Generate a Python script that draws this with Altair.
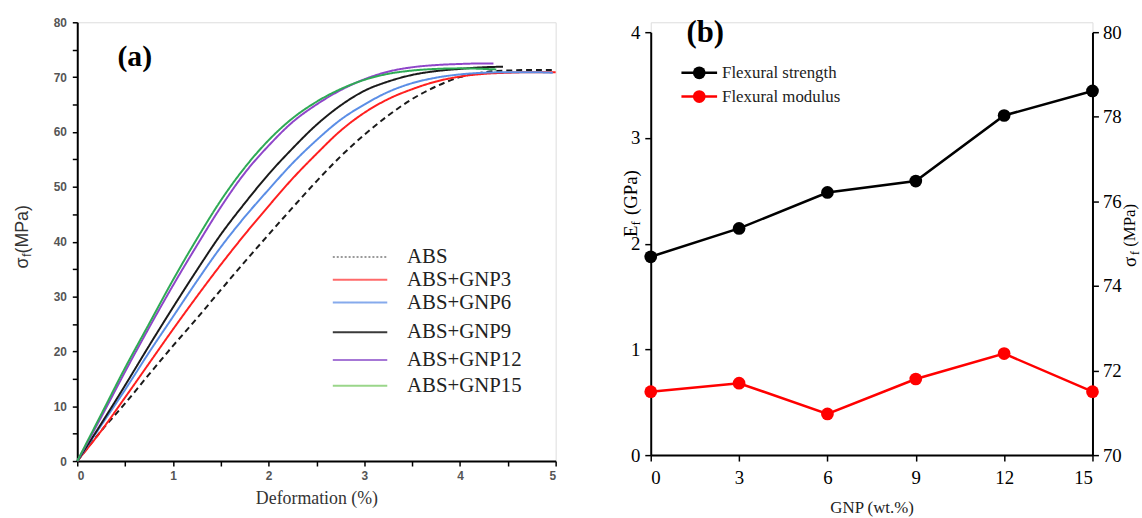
import altair as alt
import pandas as pd

# ---------------- Panel (a) data: flexural stress-strain curves ----------------
SERIES = ["ABS", "ABS+GNP3", "ABS+GNP6", "ABS+GNP9", "ABS+GNP12", "ABS+GNP15"]

X_COMMON = [0, 0.25, 0.5, 0.75, 1, 1.25, 1.5, 1.75, 2, 2.25, 2.5, 2.75, 3, 3.25, 3.5, 3.75, 4, 4.25]

ABS_Y = [0, 5.5, 10.5, 15.8, 21, 26, 31.2, 36.3, 41.3, 46.2, 51, 55.5, 59.5, 63, 66, 68.3, 70, 70.9]
ABS_TAIL_X = [4.5, 4.75, 5]
ABS_TAIL_Y = [71.2, 71.3, 71.3]

GNP3_Y = [0, 5.5, 11.6, 17.8, 24, 30, 35.8, 41.3, 46.5, 51.5, 56, 60.2, 63.5, 66, 67.8, 69.2, 70.1, 70.6]
GNP3_TAIL_X = [4.5, 4.75, 5]
GNP3_TAIL_Y = [70.8, 70.9, 70.9]

GNP6_Y = [0, 6.5, 13, 19.8, 26.3, 32.8, 39, 44.5, 49.5, 54.3, 58.5, 62.2, 65, 67.3, 68.9, 69.9, 70.5, 70.8]
GNP6_TAIL_X = [4.5, 4.75, 4.97]
GNP6_TAIL_Y = [70.9, 70.9, 70.8]

GNP9_Y = [0, 6.8, 13.8, 21, 28, 34.8, 41.3, 47, 52.3, 57, 61.3, 64.8, 67.5, 69.2, 70.4, 71.1, 71.5, 71.8]
GNP9_TAIL_X = [4.45]
GNP9_TAIL_Y = [71.9]

GNP12_Y = [0, 8, 16.3, 24.3, 32, 39.3, 46.3, 52.5, 57.5, 61.8, 65, 67.6, 69.6, 71, 71.8, 72.2, 72.4, 72.5]
GNP12_TAIL_X = [4.35]
GNP12_TAIL_Y = [72.5]

GNP15_Y = [0, 8.5, 17, 25, 33, 40.5, 47.5, 53.5, 58.5, 62.5, 65.5, 67.8, 69.5, 70.6, 71.2, 71.5, 71.6, 71.5]
GNP15_TAIL_X = [4.38]
GNP15_TAIL_Y = [71.4]

# ---------------- Panel (b) data ----------------
GNP_WT = [0, 3, 6, 9, 12, 15]
FLEX_STRENGTH = [74.69, 75.36, 76.21, 76.48, 78.03, 78.61]   # MPa, right axis
FLEX_MODULUS = [0.60, 0.68, 0.39, 0.72, 0.96, 0.60]          # GPa, left axis

# ---------------- styles ----------------
COLORS = ["#1a1a1a", "#ff1f1f", "#5b8ee6", "#1a1a1a", "#8f45c9", "#2eaa55"]
LEGEND_COLORS = ["#9a9a9a", "#ff6a6a", "#86aaec", "#3a3a3a", "#a677d6", "#9ad68a"]
DASHES = [[6, 4], [1, 0], [1, 0], [1, 0], [1, 0], [1, 0]]
LEGEND_DASHES = [[2, 2], [1, 0], [1, 0], [1, 0], [1, 0], [1, 0]]
SERIF = "Liberation Serif"
SANS = "Liberation Sans"

curves_y = [ABS_Y, GNP3_Y, GNP6_Y, GNP9_Y, GNP12_Y, GNP15_Y]
tails_x = [ABS_TAIL_X, GNP3_TAIL_X, GNP6_TAIL_X, GNP9_TAIL_X, GNP12_TAIL_X, GNP15_TAIL_X]
tails_y = [ABS_TAIL_Y, GNP3_TAIL_Y, GNP6_TAIL_Y, GNP9_TAIL_Y, GNP12_TAIL_Y, GNP15_TAIL_Y]

rows = []
for name, ys, tx, ty in zip(SERIES, curves_y, tails_x, tails_y):
    xs = X_COMMON + tx
    yv = ys + ty
    for i, (xx, yy) in enumerate(zip(xs, yv)):
        rows.append({"series": name, "x": xx, "y": yy, "i": i})
df_a = pd.DataFrame(rows)

one = pd.DataFrame({"k": [0]})

A_W, A_H = 483, 443
B_W, B_H = 446, 437
B_TOP = 10  # plot of (b) starts a little lower than plot of (a)

curves = alt.Chart(df_a).mark_line(interpolate="monotone", strokeWidth=2).encode(
    x=alt.X("x:Q", scale=alt.Scale(domain=[0, 5], nice=False),
            axis=alt.Axis(values=[v / 2 for v in range(0, 11)],
                          labelExpr="datum.value % 1 == 0 ? datum.label : ''",
                          format="~g", grid=False, domainColor="black", domainWidth=2,
                          tickColor="black", tickWidth=1.5, tickSize=5,
                          labelFont=SANS, labelFontWeight="bold", labelFontSize=12,
                          labelColor="#555555", labelPadding=5,
                          title="Deformation (%)", titleFont=SERIF, titleFontSize=18,
                          titleFontWeight="normal", titleColor="#333333", titlePadding=8)),
    y=alt.Y("y:Q", scale=alt.Scale(domain=[0, 80], nice=False),
            axis=alt.Axis(values=list(range(0, 81, 5)),
                          labelExpr="datum.value % 10 == 0 ? datum.label : ''",
                          grid=False, domainColor="black", domainWidth=2,
                          tickColor="black", tickWidth=1.5, tickSize=5,
                          labelFont=SANS, labelFontWeight="bold", labelFontSize=12,
                          labelColor="#555555", labelPadding=6, title=None)),
    color=alt.Color("series:N", scale=alt.Scale(domain=SERIES, range=COLORS), legend=None),
    strokeDash=alt.StrokeDash("series:N", scale=alt.Scale(domain=SERIES, range=DASHES), legend=None),
    order="i:Q",
)

a_layers = [curves]

# legend of (a)
LEG_A_Y = [237, 260, 283, 313, 341, 367]
for name, col, dash, ly in zip(SERIES, LEGEND_COLORS, LEGEND_DASHES, LEG_A_Y):
    a_layers.append(alt.Chart(one).mark_rule(color=col, strokeWidth=2, strokeDash=dash).encode(
        x=alt.value(258), x2=alt.value(313), y=alt.value(ly)))
    a_layers.append(alt.Chart(one).mark_text(text=name, font=SERIF, fontSize=21, color="#222222",
                                             align="left", baseline="middle").encode(
        x=alt.value(333), y=alt.value(ly)))

# panel label (a)
a_layers.append(alt.Chart(one).mark_text(text="(a)", font=SERIF, fontSize=30, fontWeight="bold",
                                         color="black", align="center", baseline="middle").encode(
    x=alt.value(58), y=alt.value(35)))


def rot_text(txt, x, y, size, font, color="black"):
    return alt.Chart(one).mark_text(text=txt, font=font, fontSize=size, color=color, angle=270,
                                    align="center", baseline="middle").encode(
        x=alt.value(x), y=alt.value(y))


a_layers += [
    rot_text("σ", -55, 243, 18, SANS, "#333333"),
    rot_text("f", -51, 235, 12, SANS, "#333333"),
    rot_text("(MPa)", -55, 209, 18, SANS, "#333333"),
]

panel_a = alt.layer(*a_layers).properties(width=A_W, height=A_H)

# ---------------- Panel (b) ----------------
df_b = pd.DataFrame({"gnp": GNP_WT, "strength": FLEX_STRENGTH, "modulus": FLEX_MODULUS})

x_b = alt.X("gnp:Q", scale=alt.Scale(domain=[0, 15], nice=False),
            axis=alt.Axis(values=GNP_WT, grid=False, domainColor="black", domainWidth=2,
                          tickColor="black", tickWidth=1.5, tickSize=6,
                          labelFont=SERIF, labelFontSize=19, labelColor="black", labelPadding=8,
                          title="GNP (wt.%)", titleFont=SERIF, titleFontSize=17,
                          titleFontWeight="normal", titleColor="#222222", titlePadding=12))

mod_layer = alt.Chart(df_b).mark_line(color="#ff0000", strokeWidth=2.5,
                                      point=alt.OverlayMarkDef(color="#ff0000", size=165, filled=True, opacity=1)).encode(
    x=x_b,
    y=alt.Y("modulus:Q", scale=alt.Scale(domain=[0, 4], nice=False, range=[B_H, B_TOP]),
            axis=alt.Axis(orient="left", values=[0, 1, 2, 3, 4], grid=False, domainColor="black",
                          domainWidth=2, tickColor="black", tickWidth=1.5, tickSize=6,
                          labelFont=SERIF, labelFontSize=19, labelColor="black", labelPadding=5,
                          title=None)),
)

str_layer = alt.Chart(df_b).mark_line(color="black", strokeWidth=2.5,
                                      point=alt.OverlayMarkDef(color="black", size=165, filled=True, opacity=1)).encode(
    x=x_b,
    y=alt.Y("strength:Q", scale=alt.Scale(domain=[70, 80], nice=False, zero=False, range=[B_H, B_TOP]),
            axis=alt.Axis(orient="right", values=[70, 72, 74, 76, 78, 80], grid=False,
                          domainColor="black", domainWidth=2, tickColor="black", tickWidth=1.5,
                          tickSize=6, labelFont=SERIF, labelFontSize=19, labelColor="black",
                          labelPadding=4, title=None)),
)

b_layers = [mod_layer, str_layer]

LEG_B_NAMES = ["Flexural strength", "Flexural modulus"]
LEG_B_COLORS = ["black", "#ff0000"]
LEG_B_Y = [51, 75]
for name, col, ly in zip(LEG_B_NAMES, LEG_B_COLORS, LEG_B_Y):
    b_layers.append(alt.Chart(one).mark_rule(color=col, strokeWidth=2.5).encode(
        x=alt.value(31), x2=alt.value(67), y=alt.value(ly)))
    b_layers.append(alt.Chart(one).mark_point(color=col, filled=True, opacity=1, size=165).encode(
        x=alt.value(49), y=alt.value(ly)))
    b_layers.append(alt.Chart(one).mark_text(text=name, font=SERIF, fontSize=17, color="#222222",
                                             align="left", baseline="middle").encode(
        x=alt.value(72), y=alt.value(ly)))

b_layers.append(alt.Chart(one).mark_text(text="(b)", font=SERIF, fontSize=31, fontWeight="bold",
                                         color="black", align="center", baseline="middle").encode(
    x=alt.value(55), y=alt.value(11)))

b_layers += [
    rot_text("E", -20, 211, 19, SERIF),
    rot_text("f", -15, 203, 12, SERIF),
    rot_text("(GPa)", -20, 172, 19, SERIF),
    rot_text("σ", 484, 242, 19, SERIF),
    rot_text("f", 489, 233, 12, SERIF),
    rot_text("(MPa)", 484, 205, 17, SERIF),
]

panel_b = alt.layer(*b_layers).resolve_scale(y="independent").properties(width=B_W, height=B_H)

chart = alt.hconcat(panel_a, panel_b, spacing=61).properties(
    padding={"left": 13, "top": 13, "right": 0, "bottom": 0}
).configure_view(stroke=None).configure(background="white")

chart.save("out.html", embed_options={"renderer": "svg", "actions": False})
